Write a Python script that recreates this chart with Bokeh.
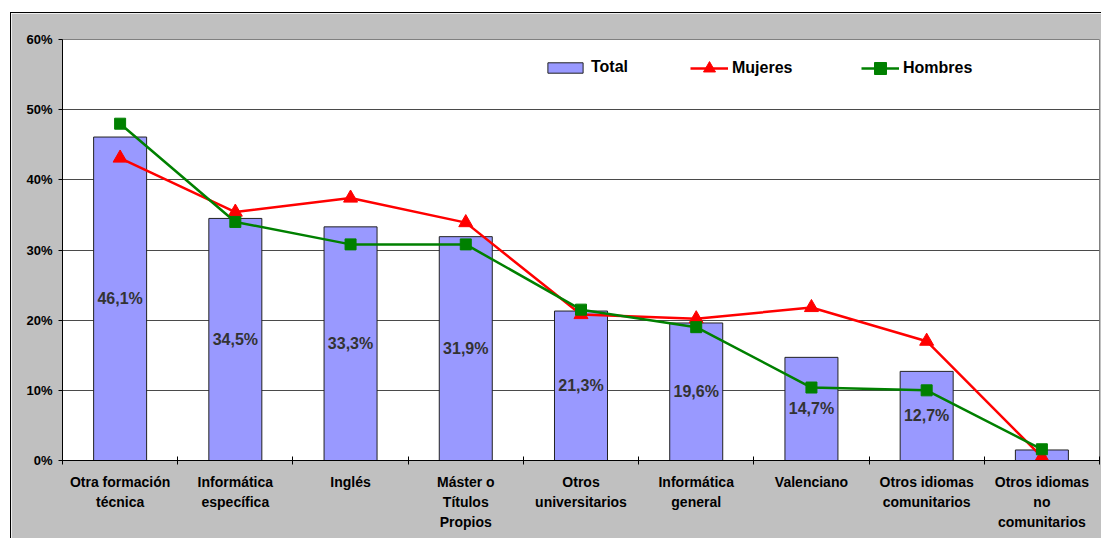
from bokeh.plotting import figure
from bokeh.models import (Range1d, FixedTicker, ColumnDataSource, LabelSet,
                          Legend, LegendItem, PrintfTickFormatter)
from bokeh.core.properties import value
from bokeh.embed import file_html
from bokeh.resources import INLINE

categories = ["Otra formación\ntécnica", "Informática\nespecífica", "Inglés",
              "Máster o\nTítulos\nPropios", "Otros\nuniversitarios",
              "Informática\ngeneral", "Valenciano", "Otros idiomas\ncomunitarios",
              "Otros idiomas\nno\ncomunitarios"]
total = [46.1, 34.5, 33.3, 31.9, 21.3, 19.6, 14.7, 12.7, 1.5]
mujeres = [43.1, 35.4, 37.4, 33.9, 20.8, 20.2, 21.8, 17.0, 0.5]
hombres = [48.0, 34.0, 30.8, 30.8, 21.5, 19.0, 10.4, 10.0, 1.6]
y_ticks = [0, 10, 20, 30, 40, 50, 60]

FONT = "Liberation Sans"

xpos = [i + 0.5 for i in range(len(categories))]
src = ColumnDataSource(dict(x=xpos, total=total, mujeres=mujeres, hombres=hombres))
lab_src = ColumnDataSource(dict(
    x=xpos[:-1],
    y=[v / 2 for v in total[:-1]],
    t=[("%.1f%%" % v).replace(".", ",") for v in total[:-1]],
))

p = figure(frame_width=1037, frame_height=421, output_backend="svg",
           toolbar_location=None, x_range=Range1d(0, len(categories)),
           y_range=Range1d(0, 60),
           min_border_left=51, min_border_right=2, min_border_top=26,
           min_border_bottom=78)
p.margin = (12, 0, 0, 10)
p.styles = {"border-left": "1px solid #000000", "border-top": "1px solid #000000"}
p.border_fill_color = "#C0C0C0"
p.background_fill_color = "white"
p.outline_line_color = "#808080"
p.outline_line_width = 1

# bars
bars = p.vbar(x="x", top="total", width=0.46, source=src, fill_color="#9999FF",
              line_color="#222222", line_width=1)

# lines
lm = p.line("x", "mujeres", source=src, line_color="#FF0000", line_width=2.5)
sm = p.scatter("x", "mujeres", source=src, marker="triangle", size=14,
               fill_color="#FF0000", line_color="#FF0000")
lh = p.line("x", "hombres", source=src, line_color="#008000", line_width=2.5)
sh = p.scatter("x", "hombres", source=src, marker="square", size=11,
               fill_color="#008000", line_color="#008000")

labels = LabelSet(x="x", y="y", text="t", source=lab_src, text_align="center",
                  text_baseline="middle", text_font=value(FONT),
                  text_font_style="bold", text_font_size="16px",
                  text_color="#333333")
p.add_layout(labels)

# axes
p.xgrid.visible = False
p.ygrid.ticker = FixedTicker(ticks=y_ticks)
p.ygrid.grid_line_color = "#4a4a4a"
p.ygrid.grid_line_width = 1

ya = p.yaxis[0]
ya.ticker = FixedTicker(ticks=y_ticks)
ya.formatter = PrintfTickFormatter(format="%d%%")
ya.axis_line_color = "black"
ya.major_tick_line_color = "black"
ya.major_tick_in = 0
ya.major_tick_out = 4
ya.minor_tick_line_color = None
ya.major_label_standoff = 6
ya.major_label_text_font = FONT
ya.major_label_text_font_style = "bold"
ya.major_label_text_font_size = "13px"
ya.major_label_text_color = "black"

xa = p.xaxis[0]
xa.ticker = FixedTicker(ticks=xpos, minor_ticks=list(range(len(categories) + 1)))
xa.major_label_overrides = {x: c for x, c in zip(xpos, categories)}
xa.axis_line_color = "black"
xa.major_tick_line_color = None
xa.minor_tick_line_color = "black"
xa.minor_tick_in = 4
xa.minor_tick_out = 4
xa.major_label_standoff = 7
xa.major_label_text_font = FONT
xa.major_label_text_font_style = "bold"
xa.major_label_text_font_size = "14px"
xa.major_label_text_color = "black"
xa.major_label_text_line_height = 1.25

# legends
def mk_legend(items, loc, gw, gh):
    lg = Legend(items=items, location=loc, orientation="horizontal",
                glyph_width=gw, glyph_height=gh, label_height=gh,
                label_standoff=4, padding=0, margin=0, spacing=0,
                background_fill_alpha=0, border_line_color=None,
                label_text_font=FONT, label_text_font_style="bold",
                label_text_font_size="16px", label_text_color="black")
    p.add_layout(lg)

mk_legend([LegendItem(label="Total", renderers=[bars])], (481, 384), 44, 13)
mk_legend([LegendItem(label="Mujeres", renderers=[lm, sm])], (628, 377), 38, 30)
mk_legend([LegendItem(label="Hombres", renderers=[lh, sh])], (799, 377), 38, 30)

open("out.html", "w").write(file_html(p, INLINE))
